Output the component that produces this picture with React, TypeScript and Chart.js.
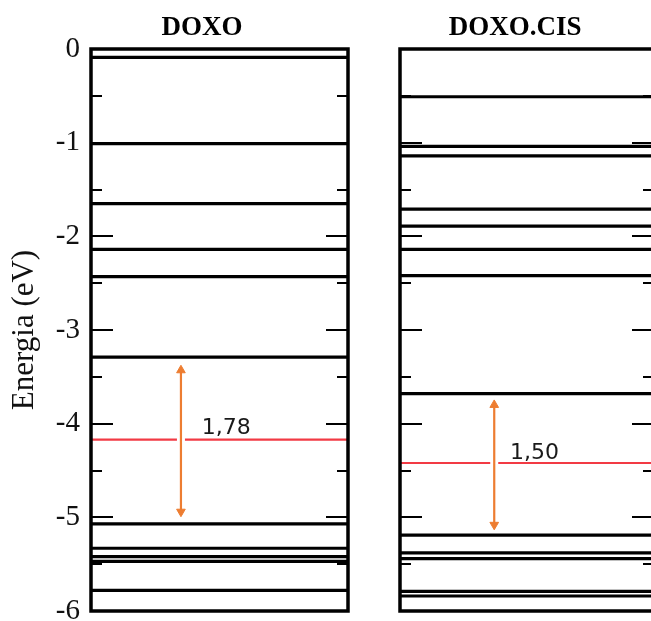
import React, { useEffect, useRef } from 'react';
import { Chart, registerables } from 'chart.js';

Chart.register(...registerables);

// ---------- data ----------
const panelTitles = ['DOXO', 'DOXO.CIS'];
const axisTitle = 'Energia (eV)';
const yMin = -6;
const yMax = 0;
const yStep = 0.5;

const doxoLevels = [-0.09, -1.01, -1.65, -2.14, -2.43, -3.29, -5.07, -5.33, -5.42, -5.47, -5.78];
const doxoFermi = -4.17;
const doxoArrow = [-3.43, -4.94];
const doxoGapLabel = '1,78';
const doxoLabelAt = [0.431, -4.11];

const cisLevels = [-0.51, -1.04, -1.14, -1.71, -1.89, -2.14, -2.42, -3.68, -5.19, -5.38, -5.44, -5.79, -5.84];
const cisFermi = -4.42;
const cisArrow = [-3.8, -5.08];
const cisGapLabel = '1,50';
const cisLabelAt = [0.433, -4.38];

const doxoArrowX = 0.35;
const cisArrowX = 0.371;

// ---------- plugin ----------
const framePlugin = {
  id: 'frame',
  afterDatasetsDraw(chart: any, _args: any, opts: any) {
    const { ctx, chartArea: a, scales } = chart;
    const y = scales.y;
    const x = scales.x;
    ctx.save();
    ctx.strokeStyle = '#000';
    ctx.lineWidth = 2;
    for (const t of y.ticks) {
      const py = Math.round(y.getPixelForValue(t.value));
      const len = Number.isInteger(t.value) ? 22 : 11;
      ctx.beginPath();
      ctx.moveTo(a.left, py);
      ctx.lineTo(a.left + len, py);
      ctx.moveTo(a.right, py);
      ctx.lineTo(a.right - len, py);
      ctx.stroke();
    }
    ctx.lineWidth = 3.5;
    ctx.strokeRect(a.left, a.top, a.right - a.left, a.bottom - a.top);

    ctx.fillStyle = '#000';
    ctx.font = 'bold 27px "Liberation Serif", serif';
    ctx.textAlign = 'center';
    ctx.textBaseline = 'alphabetic';
    ctx.fillText(opts.title, a.left + opts.titleFrac * (a.right - a.left), 35);

    ctx.fillStyle = '#1a1a1a';
    ctx.font = '22px "DejaVu Sans", sans-serif';
    ctx.textAlign = 'left';
    ctx.fillText(opts.label, x.getPixelForValue(opts.labelAt[0]), y.getPixelForValue(opts.labelAt[1]));
    ctx.restore();
  },
};

type PanelProps = {
  title: string;
  titleFrac: number;
  levels: number[];
  fermi: number;
  arrow: number[];
  arrowX: number;
  label: string;
  labelAt: number[];
  showAxis: boolean;
  left: number;
  width: number;
  axisWidth: number;
  padRight: number;
};

const CANVAS_H = 660;

function Panel(p: PanelProps) {
  const ref = useRef<HTMLCanvasElement>(null);
  useEffect(() => {
    if (!ref.current) return;
    const levelSets = p.levels.map((e) => ({
      data: [{ x: 0, y: e }, { x: 1, y: e }],
      borderColor: '#000',
      borderWidth: 3.2,
      pointRadius: 0,
      showLine: true,
      order: 4,
    }));
    const datasets: any[] = [
      ...levelSets,
      {
        data: [{ x: 0, y: p.fermi }, { x: 1, y: p.fermi }],
        borderColor: '#F23A44',
        borderWidth: 2.2,
        pointRadius: 0,
        showLine: true,
        order: 3,
      },
      {
        data: [{ x: p.arrowX, y: p.arrow[0] }, { x: p.arrowX, y: p.arrow[1] }],
        borderColor: '#ffffff',
        borderWidth: 8,
        pointRadius: 0,
        showLine: true,
        order: 2,
      },
      {
        data: [{ x: p.arrowX, y: p.arrow[0] }, { x: p.arrowX, y: p.arrow[1] }],
        borderColor: '#ED7D31',
        backgroundColor: '#ED7D31',
        borderWidth: 2.2,
        pointStyle: 'triangle',
        pointRadius: 5,
        pointBorderWidth: 1,
        pointBackgroundColor: '#ED7D31',
        pointBorderColor: '#ED7D31',
        pointRotation: [0, 180],
        showLine: true,
        order: 1,
      },
    ];
    const chart = new Chart(ref.current, {
      type: 'scatter',
      data: { datasets },
      plugins: [framePlugin],
      options: {
        animation: false,
        responsive: false,
        maintainAspectRatio: false,
        layout: { padding: { left: 0, right: p.padRight, top: 49, bottom: CANVAS_H - 611 } },
        plugins: {
          legend: { display: false },
          tooltip: { enabled: false },
          frame: { title: p.title, titleFrac: p.titleFrac, label: p.label, labelAt: p.labelAt },
        } as any,
        scales: {
          x: { type: 'linear', min: 0, max: 1, display: false },
          y: {
            type: 'linear',
            min: yMin,
            max: yMax,
            afterFit: (s: any) => {
              s.width = p.axisWidth;
            },
            grid: { display: false, drawTicks: false },
            border: { display: false },
            ticks: {
              display: p.showAxis,
              stepSize: yStep,
              autoSkip: false,
              padding: 11,
              color: '#111',
              font: { family: '"Liberation Serif", serif', size: 29 },
              callback: (v: any) => (Number.isInteger(v) ? String(v) : ''),
            },
            title: {
              display: p.showAxis,
              text: axisTitle,
              color: '#111',
              font: { family: '"Liberation Serif", serif', size: 31 },
              padding: { top: 6, bottom: 0 },
            },
          },
        },
      } as any,
    });
    return () => chart.destroy();
  }, []);
  return (
    <canvas
      ref={ref}
      width={p.width}
      height={CANVAS_H}
      style={{ position: 'absolute', left: p.left, top: 0, width: p.width, height: CANVAS_H }}
    />
  );
}

export default function App() {
  return (
    <div
      style={{
        position: 'fixed',
        left: 0,
        top: 0,
        width: 651,
        height: 621,
        overflow: 'hidden',
        background: '#fff',
      }}
    >
      <Panel
        title={panelTitles[0]}
        titleFrac={0.432}
        levels={doxoLevels}
        fermi={doxoFermi}
        arrow={doxoArrow}
        arrowX={doxoArrowX}
        label={doxoGapLabel}
        labelAt={doxoLabelAt}
        showAxis={true}
        left={0}
        width={360}
        axisWidth={91}
        padRight={12}
      />
      <Panel
        title={panelTitles[1]}
        titleFrac={0.453}
        levels={cisLevels}
        fermi={cisFermi}
        arrow={cisArrow}
        arrowX={cisArrowX}
        label={cisGapLabel}
        labelAt={cisLabelAt}
        showAxis={false}
        left={360}
        width={300}
        axisWidth={40}
        padRight={2}
      />
    </div>
  );
}
